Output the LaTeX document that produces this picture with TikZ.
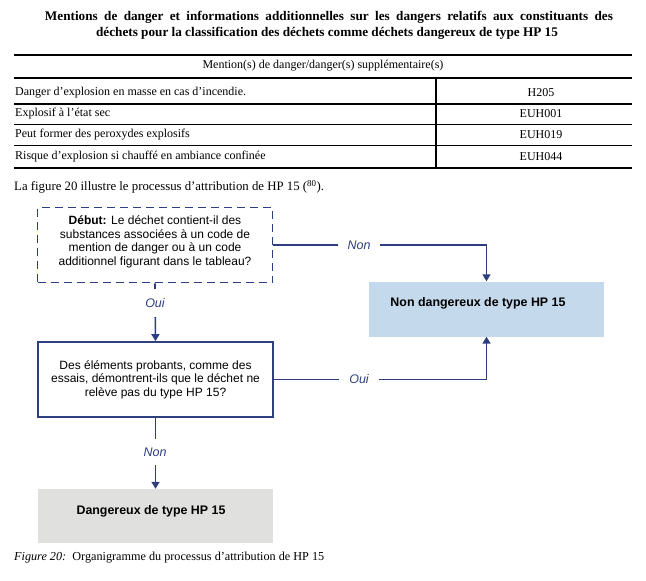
\documentclass[tikz,border=0pt]{standalone}
\usepackage{fontspec}
\setmainfont{Liberation Serif}
\newfontfamily\arial{Liberation Sans}
\usetikzlibrary{arrows.meta}
\definecolor{navy}{RGB}{46,62,128}
\definecolor{lblue}{RGB}{197,217,236}
\definecolor{lgrey}{RGB}{224,224,222}
\tikzset{
  serif/.style={font=\fontsize{12}{14}\selectfont, inner sep=0pt},
  ttl/.style={font=\bfseries\fontsize{13.2}{15}\selectfont, inner sep=0pt},
  qbox/.style={draw=navy, line width=1.8pt, minimum width=235pt, minimum height=75pt, inner sep=0pt},
  fbox/.style={minimum width=235pt, minimum height=55pt, inner sep=0pt},
  ftext/.style={font=\arial\fontsize{12}{13.6}\selectfont, align=center, inner sep=0pt},
  btext/.style={font=\arial\bfseries\fontsize{12.4}{14}\selectfont, inner sep=0pt},
  conn/.style={draw=navy, line width=1.6pt},
  arr/.style={conn, -{Triangle[length=7pt,width=8pt]}},
  lbl/.style={font=\arial\itshape\fontsize{12.5}{14}\selectfont, text=navy, fill=white, inner xsep=10pt, inner ysep=9pt},
  rule/.style={line width=1.6pt}
}
\begin{document}
\begin{tikzpicture}[x=1pt,y=-1pt]
\useasboundingbox (0,0) rectangle (646,581);
\fill[white] (0,0) rectangle (646,581);
% title
\node[ttl] (t1) at (329,17) {\makebox[568pt][s]{Mentions de danger et informations additionnelles sur les dangers relatifs aux constituants des}};
\node[ttl] (t2) at (327,33) {déchets pour la classification des déchets comme déchets dangereux de type HP 15};
% table
\draw[line width=1.2pt] (14,55) -- (632,55);
\node[serif] (th) at (323,66) {Mention(s) de danger/danger(s) supplémentaire(s)};
\draw[line width=2pt] (14,77.5) -- (632,77.5);
\draw[rule] (14,104) -- (632,104);
\draw[rule] (14,124.5) -- (632,124.5);
\draw[rule] (14,145.5) -- (632,145.5);
\draw[line width=2pt] (14,167.5) -- (632,167.5);
\draw[line width=2pt] (435.5,77.5) -- (435.5,167.5);
\node[serif, anchor=west] (r1) at (15,92.5) {Danger d'explosion en masse en cas d'incendie.};
\node[serif, anchor=west] (r2) at (15,114) {Explosif à l'état sec};
\node[serif, anchor=west] (r3) at (15,135) {Peut former des peroxydes explosifs};
\node[serif, anchor=west] (r4) at (15,156.5) {Risque d'explosion si chauffé en ambiance confinée};
\node[serif] (c1) at (541,92.5) {H205};
\node[serif] (c2) at (541,114) {EUH001};
\node[serif] (c3) at (541,135) {EUH019};
\node[serif] (c4) at (541,156.5) {EUH044};
\node[serif, font=\fontsize{12.8}{14}\selectfont, anchor=west] (intro) at (14,187) {La figure 20 illustre le processus d'attribution de HP 15 (\textsuperscript{80}).};
% flowchart
\node[qbox, dashed, dash pattern=on 8pt off 5pt] (q1) at (155,245) {};
\node[ftext] (q1t) at (155,242) {\textbf{Début:} Le déchet contient-il des\\substances associées à un code de\\mention de danger ou à un code\\additionnel figurant dans le tableau?};
\node[qbox] (q2) at (155.5,379.5) {};
\node[ftext] (q2t) at (155.5,379.5) {Des éléments probants, comme des\\essais, démontrent-ils que le déchet ne\\relève pas du type HP 15?};
\node[fbox, fill=lblue] (nd) at (486.5,309) {};
\node[btext] (ndt) at (478,303) {Non dangereux de type HP 15};
\node[fbox, fill=lgrey, minimum height=54pt] (dg) at (155.5,516) {};
\node[btext] (dgt) at (151,511) {Dangereux de type HP 15};
\draw[arr] (q1.east) -| (nd.north);
\draw[arr] (q2.east) -| (nd.south);
\draw[arr] (q1.south) -- (q2.north);
\draw[arr] (q2.south) -- (dg.north);
\node[lbl] (l1) at (359,245) {Non};
\node[lbl] (l2) at (359,379.5) {Oui};
\node[lbl] (l3) at (155,303) {Oui};
\node[lbl] (l4) at (155,452) {Non};
% caption
\node[serif, font=\fontsize{12.2}{14}\selectfont, anchor=west] (cap) at (14,558) {\textit{Figure 20:}\ \ Organigramme du processus d'attribution de HP 15};
\end{tikzpicture}
\end{document}
